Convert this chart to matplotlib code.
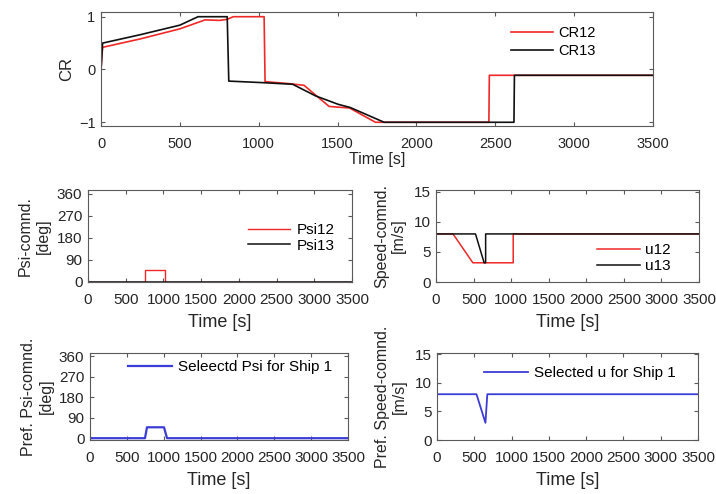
import matplotlib
matplotlib.use("Agg")
import matplotlib.pyplot as plt

plt.rcParams['font.family'] = ['Liberation Sans', 'DejaVu Sans']

# ---------------- data ----------------
cr12_t = [0, 10, 250, 500, 660, 750, 800, 838, 1034, 1040, 1200, 1287, 1446, 1576, 1740, 2459, 2462, 3500]
cr12_v = [0, 0.42, 0.58, 0.77, 0.94, 0.93, 0.95, 1.0, 1.0, -0.23, -0.27, -0.30, -0.70, -0.73, -1.0, -1.0, -0.11, -0.11]
cr13_t = [0, 10, 250, 500, 615, 800, 810, 1030, 1215, 1360, 1504, 1580, 1795, 2618, 2621, 3500]
cr13_v = [0, 0.50, 0.66, 0.84, 1.0, 1.0, -0.22, -0.25, -0.28, -0.50, -0.66, -0.72, -1.0, -1.0, -0.11, -0.11]

psi12_t = [0, 756, 756, 1021, 1021, 3500]
psi12_v = [0, 0, 48, 48, 0, 0]
psi13_t = [0, 3500]
psi13_v = [0, 0]

u12_t = [0, 226, 490, 1027, 1027, 3500]
u12_v = [8, 8, 3.2, 3.2, 8, 8]
u13_t = [0, 525, 640, 660, 660, 3500]
u13_v = [8, 8, 3.2, 3.2, 8, 8]

psisel_t = [0, 746, 773, 1004, 1045, 3500]
psisel_v = [0, 0, 48, 48, 0, 0]

usel_t = [0, 530, 650, 675, 3500]
usel_v = [8, 8, 3.0, 8, 8]

time_ticks = [0, 500, 1000, 1500, 2000, 2500, 3000, 3500]
psi_ticks = [0, 90, 180, 270, 360]
u_ticks = [0, 5, 10, 15]
cr_ticks = [-1, 0, 1]

RED = '#f02828'
BLK = '#101010'
BLU = '#3c3cd6'
SPINE = '#5a5a5a'
TXT = '#262626'

fig = plt.figure(figsize=(7.16, 4.94), dpi=100)

def style(ax, fs):
    for s in ax.spines.values():
        s.set_color(SPINE)
        s.set_linewidth(0.8)
    ax.tick_params(direction='in', top=True, right=True, length=3, width=0.8,
                   colors=SPINE, labelcolor=TXT, labelsize=fs, pad=4)
    ax.tick_params(axis='x', pad=8)
    ax.set_xlim(0, 3500)
    ax.set_xticks(time_ticks)

# top axes
ax0 = fig.add_axes([0.1411, 0.745, 0.771, 0.2308])
ax0.plot(cr12_t, cr12_v, color=RED, lw=1.2, label='CR12')
ax0.plot(cr13_t, cr13_v, color=BLK, lw=1.2, label='CR13')
style(ax0, 10.5)
ax0.set_ylim(-1.07, 1.09)
ax0.set_yticks(cr_ticks)
ax0.set_xlabel('Time [s]', fontsize=11.5, color=TXT, labelpad=1)
ax0.set_ylabel('CR', fontsize=12, color=TXT, va='center')
ax0.yaxis.set_label_coords(-0.062, 0.5)
ax0.legend(loc='center left', bbox_to_anchor=(0.743, 0.737), frameon=False,
           fontsize=10.5, handlelength=2.9, handletextpad=0.35, labelspacing=0.25,
           borderpad=0, borderaxespad=0)

# middle left
ax1 = fig.add_axes([0.1229, 0.4291, 0.3687, 0.1862])
ax1.plot(psi12_t, psi12_v, color=RED, lw=1.0, label='Psi12')
ax1.plot(psi13_t, psi13_v, color=BLK, lw=1.1, label='Psi13')
style(ax1, 11)
ax1.set_ylim(-2, 375)
ax1.set_yticks(psi_ticks)
ax1.set_xlabel('Time [s]', fontsize=13, color=TXT, labelpad=5)
ax1.set_ylabel('Psi-comnd.\n[deg]', fontsize=11.5, color=TXT, va='center', linespacing=1.2)
ax1.yaxis.set_label_coords(-0.203, 0.5)
ax1.legend(loc='center left', bbox_to_anchor=(0.606, 0.478), frameon=False,
           fontsize=11, handlelength=2.75, handletextpad=0.45, labelspacing=0.1,
           borderpad=0, borderaxespad=0)

# middle right
ax2 = fig.add_axes([0.609, 0.4291, 0.3673, 0.1862])
ax2.plot(u12_t, u12_v, color=RED, lw=1.1, label='u12')
ax2.plot(u13_t, u13_v, color=BLK, lw=1.1, label='u13')
style(ax2, 11)
ax2.set_ylim(0, 15.3)
ax2.set_yticks(u_ticks)
ax2.set_xlabel('Time [s]', fontsize=13, color=TXT, labelpad=5)
ax2.set_ylabel('Speed-comnd.\n[m/s]', fontsize=11.5, color=TXT, va='center', linespacing=1.2)
ax2.yaxis.set_label_coords(-0.175, 0.5)
ax2.legend(loc='center left', bbox_to_anchor=(0.612, 0.26), frameon=False,
           fontsize=11, handlelength=2.8, handletextpad=0.35, labelspacing=0.1,
           borderpad=0, borderaxespad=0)

# bottom left
ax3 = fig.add_axes([0.1257, 0.1093, 0.3603, 0.1761])
ax3.plot(psisel_t, psisel_v, color=BLU, lw=1.6, label='Seleectd Psi for Ship 1')
style(ax3, 11)
ax3.set_ylim(-8, 375)
ax3.set_yticks(psi_ticks)
ax3.set_xlabel('Time [s]', fontsize=13, color=TXT, labelpad=5)
ax3.set_ylabel('Pref. Psi-comnd.\n[deg]', fontsize=11.5, color=TXT, va='center', linespacing=1.2)
ax3.yaxis.set_label_coords(-0.203, 0.5)
ax3.legend(loc='center left', bbox_to_anchor=(0.147, 0.84), frameon=False,
           fontsize=11, handlelength=2.9, handletextpad=0.4,
           borderpad=0, borderaxespad=0)

# bottom right
ax4 = fig.add_axes([0.6103, 0.1093, 0.3645, 0.1761])
ax4.plot(usel_t, usel_v, color=BLU, lw=1.3, label='Selected u for Ship 1')
style(ax4, 11)
ax4.set_ylim(0, 15.2)
ax4.set_yticks(u_ticks)
ax4.set_xlabel('Time [s]', fontsize=13, color=TXT, labelpad=5)
ax4.set_ylabel('Pref. Speed-comnd.\n[m/s]', fontsize=11.5, color=TXT, va='center', linespacing=1.2)
ax4.yaxis.set_label_coords(-0.176, 0.5)
ax4.legend(loc='center left', bbox_to_anchor=(0.18, 0.77), frameon=False,
           fontsize=11, handlelength=2.9, handletextpad=0.4,
           borderpad=0, borderaxespad=0)

fig.savefig('out.png', dpi=100)
